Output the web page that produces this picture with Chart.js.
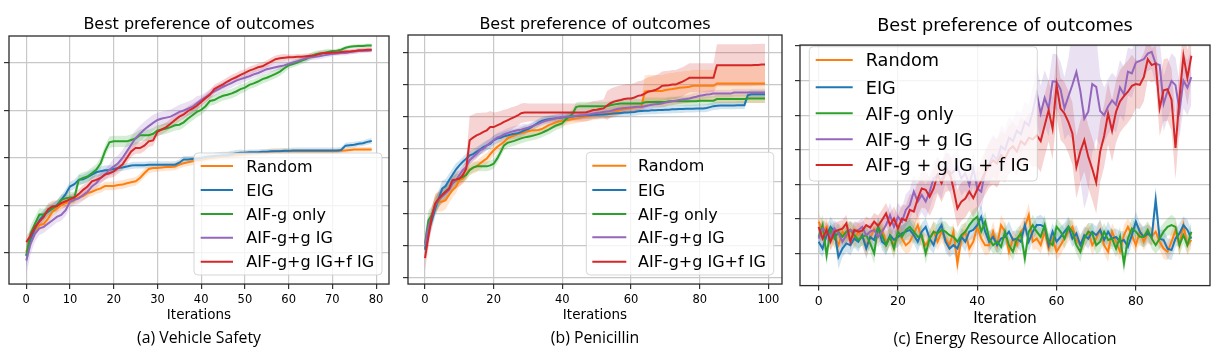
<!DOCTYPE html>
<html>
<head>
<meta charset="utf-8">
<script src="https://cdn.jsdelivr.net/npm/chart.js@4.4.1/dist/chart.umd.min.js"></script>
<style>
  body { margin: 0; background: #fff; }
  #wrap { position: relative; width: 1226px; height: 360px; }
  canvas { position: absolute; top: 0; }
</style>
</head>
<body>
<div id="wrap">
  <canvas id="chartA" width="400" height="360" style="left:0px"></canvas>
  <canvas id="chartB" width="392" height="360" style="left:400px"></canvas>
  <canvas id="chartC" width="434" height="360" style="left:792px"></canvas>
</div>
<script>
// series names and colours (matplotlib tab10)
const namesAB = ["Random", "EIG", "AIF-g only", "AIF-g+g IG", "AIF-g+g IG+f IG"];
const namesC = ["Random", "EIG", "AIF-g only", "AIF-g + g IG", "AIF-g + g IG + f IG"];
const lineColors = ["#ff7f0e", "#1f77b4", "#2ca02c", "#9467bd", "#d62728"];
const bandColors = ["rgba(255,127,14,0.2)", "rgba(31,119,180,0.2)", "rgba(44,160,44,0.2)",
                    "rgba(148,103,189,0.2)", "rgba(214,39,40,0.2)"];

// ---------- (a) Vehicle Safety ----------
const vsIter = Array.from({length: 80}, (_, i) => i);
const vsXTicks = [0, 10, 20, 30, 40, 50, 60, 70, 80];
const vsYTicks = [0, 1, 2, 3, 4];
const vsRandom = [
  0.02,0.30,0.48,0.59,0.61,0.73,0.87,0.94,1.01,1.05,
  1.08,1.12,1.17,1.20,1.26,1.29,1.33,1.36,1.41,1.41,
  1.41,1.43,1.44,1.47,1.49,1.51,1.58,1.68,1.77,1.79,
  1.79,1.80,1.81,1.81,1.82,1.86,1.89,1.91,1.93,1.95,
  1.96,1.98,2.00,2.01,2.02,2.03,2.04,2.05,2.06,2.07,
  2.08,2.09,2.10,2.10,2.11,2.12,2.13,2.14,2.14,2.14,
  2.14,2.14,2.14,2.14,2.14,2.14,2.14,2.14,2.14,2.14,
  2.14,2.14,2.15,2.16,2.17,2.18,2.18,2.18,2.18,2.18];
const vsEIG = [
  -0.07,0.30,0.52,0.69,0.80,0.87,0.94,1.01,1.12,1.24,
  1.40,1.45,1.54,1.55,1.60,1.65,1.70,1.72,1.74,1.75,
  1.77,1.79,1.80,1.82,1.84,1.85,1.85,1.85,1.86,1.86,
  1.86,1.86,1.86,1.86,1.86,1.90,1.97,1.97,1.98,1.99,
  2.00,2.02,2.03,2.04,2.05,2.06,2.06,2.08,2.10,2.11,
  2.11,2.12,2.12,2.12,2.13,2.13,2.14,2.14,2.14,2.15,
  2.15,2.16,2.16,2.16,2.16,2.16,2.16,2.16,2.16,2.16,
  2.16,2.16,2.17,2.26,2.27,2.28,2.30,2.31,2.34,2.36];
const vsAIF = [
  -0.05,0.41,0.62,0.81,0.81,0.90,0.94,0.99,1.12,1.15,
  1.17,1.17,1.54,1.58,1.61,1.68,1.75,1.89,2.14,2.33,
  2.35,2.35,2.35,2.35,2.38,2.41,2.48,2.48,2.48,2.51,
  2.58,2.60,2.62,2.65,2.69,2.70,2.75,2.83,2.90,2.97,
  3.01,3.09,3.20,3.22,3.27,3.31,3.33,3.36,3.40,3.45,
  3.48,3.54,3.57,3.61,3.66,3.69,3.73,3.77,3.82,3.89,
  3.95,3.98,4.01,4.05,4.08,4.14,4.18,4.20,4.21,4.23,
  4.25,4.26,4.28,4.32,4.34,4.35,4.36,4.36,4.37,4.37];
const vsAIFg = [
  -0.16,0.20,0.41,0.52,0.55,0.62,0.69,0.76,0.80,0.90,
  1.08,1.12,1.15,1.22,1.29,1.40,1.47,1.58,1.65,1.75,
  1.82,1.89,2.00,2.14,2.28,2.42,2.51,2.60,2.67,2.74,
  2.80,2.83,2.85,2.87,2.92,2.97,3.00,3.04,3.08,3.15,
  3.22,3.28,3.35,3.40,3.45,3.50,3.54,3.58,3.63,3.66,
  3.69,3.72,3.76,3.79,3.83,3.87,3.89,3.91,3.93,3.95,
  3.98,4.01,4.04,4.07,4.10,4.12,4.13,4.14,4.16,4.18,
  4.19,4.20,4.21,4.21,4.23,4.24,4.25,4.26,4.26,4.27];
const vsAIFgf = [
  0.23,0.37,0.55,0.66,0.76,0.92,0.98,0.99,1.05,1.09,
  1.13,1.17,1.24,1.33,1.40,1.51,1.54,1.58,1.65,1.68,
  1.72,1.79,1.86,2.00,2.14,2.21,2.21,2.26,2.35,2.37,
  2.55,2.60,2.65,2.72,2.80,2.87,2.92,2.99,3.04,3.10,
  3.18,3.26,3.33,3.45,3.50,3.55,3.61,3.66,3.70,3.75,
  3.79,3.84,3.87,3.91,3.93,3.98,4.03,4.08,4.10,4.11,
  4.12,4.12,4.13,4.13,4.14,4.15,4.16,4.19,4.21,4.21,
  4.22,4.22,4.23,4.24,4.24,4.25,4.27,4.27,4.28,4.28];
// half-widths of the shaded bands
const vsRandomSd = [
  0.20,0.16,0.13,0.11,0.10,0.10,0.09,0.09,0.09,0.09,
  0.09,0.09,0.09,0.09,0.09,0.09,0.09,0.09,0.09,0.09,
  0.09,0.09,0.09,0.09,0.09,0.09,0.09,0.09,0.09,0.09,
  0.08,0.08,0.08,0.08,0.08,0.08,0.08,0.08,0.08,0.08,
  0.07,0.07,0.07,0.07,0.07,0.07,0.07,0.07,0.07,0.07,
  0.06,0.06,0.06,0.06,0.06,0.06,0.06,0.06,0.06,0.06,
  0.05,0.05,0.05,0.05,0.05,0.05,0.05,0.05,0.05,0.05,
  0.05,0.05,0.05,0.05,0.05,0.05,0.05,0.05,0.05,0.05];
const vsEIGSd = [
  0.22,0.17,0.14,0.12,0.11,0.10,0.10,0.10,0.10,0.10,
  0.10,0.10,0.10,0.10,0.10,0.10,0.10,0.10,0.10,0.10,
  0.07,0.07,0.07,0.07,0.07,0.07,0.07,0.07,0.07,0.07,
  0.07,0.07,0.07,0.07,0.07,0.07,0.07,0.07,0.07,0.07,
  0.07,0.07,0.07,0.07,0.07,0.07,0.07,0.07,0.07,0.07,
  0.06,0.06,0.06,0.06,0.06,0.06,0.06,0.06,0.06,0.06,
  0.06,0.06,0.06,0.06,0.06,0.06,0.06,0.06,0.06,0.06,
  0.06,0.06,0.06,0.06,0.06,0.06,0.06,0.06,0.06,0.06];
const vsAIFSd = [
  0.22,0.18,0.15,0.13,0.12,0.12,0.11,0.11,0.11,0.11,
  0.12,0.12,0.12,0.12,0.12,0.12,0.12,0.12,0.12,0.12,
  0.12,0.12,0.12,0.12,0.12,0.12,0.12,0.12,0.12,0.12,
  0.11,0.11,0.11,0.11,0.11,0.11,0.11,0.11,0.11,0.11,
  0.10,0.10,0.10,0.10,0.10,0.10,0.10,0.10,0.10,0.10,
  0.09,0.09,0.09,0.09,0.09,0.09,0.09,0.09,0.09,0.09,
  0.07,0.07,0.07,0.07,0.07,0.07,0.07,0.07,0.07,0.07,
  0.04,0.04,0.04,0.04,0.04,0.04,0.04,0.04,0.04,0.04];
const vsAIFgSd = [
  0.30,0.22,0.17,0.14,0.13,0.12,0.12,0.12,0.12,0.12,
  0.12,0.12,0.12,0.12,0.12,0.12,0.12,0.12,0.12,0.12,
  0.17,0.17,0.17,0.17,0.17,0.17,0.17,0.17,0.17,0.17,
  0.15,0.15,0.15,0.15,0.15,0.15,0.15,0.15,0.15,0.15,
  0.10,0.10,0.10,0.10,0.10,0.10,0.10,0.10,0.10,0.10,
  0.08,0.08,0.08,0.08,0.08,0.08,0.08,0.08,0.08,0.08,
  0.06,0.06,0.06,0.06,0.06,0.06,0.06,0.06,0.06,0.06,
  0.05,0.05,0.05,0.05,0.05,0.05,0.05,0.05,0.05,0.05];
const vsAIFgfSd = [
  0.12,0.12,0.12,0.12,0.12,0.12,0.12,0.12,0.12,0.12,
  0.10,0.10,0.10,0.10,0.10,0.10,0.10,0.10,0.10,0.10,
  0.12,0.12,0.12,0.12,0.12,0.12,0.12,0.12,0.12,0.12,
  0.10,0.10,0.10,0.10,0.10,0.10,0.10,0.10,0.10,0.10,
  0.09,0.09,0.09,0.09,0.09,0.09,0.09,0.09,0.09,0.09,
  0.08,0.08,0.08,0.08,0.08,0.08,0.08,0.08,0.08,0.08,
  0.06,0.06,0.06,0.06,0.06,0.06,0.06,0.06,0.06,0.06,
  0.05,0.05,0.05,0.05,0.05,0.05,0.05,0.05,0.05,0.05];

// ---------- (b) Penicillin ----------
const penIter = Array.from({length: 100}, (_, i) => i);
const penXTicks = [0, 20, 40, 60, 80, 100];
const penYTicks = [0, 1, 2, 3, 4, 5, 6, 7];
const penRandom = [
  0.92,1.48,1.90,2.31,2.36,2.36,2.41,2.57,2.72,2.82,
  3.03,3.08,3.22,3.36,3.42,3.46,3.55,3.63,3.70,3.84,
  3.96,4.06,4.14,4.22,4.33,4.38,4.42,4.46,4.49,4.52,
  4.55,4.57,4.58,4.59,4.62,4.68,4.74,4.78,4.82,4.85,
  4.87,4.89,4.91,4.93,4.95,4.97,4.99,5.01,5.03,5.05,
  5.06,5.07,5.08,5.10,5.12,5.15,5.18,5.21,5.23,5.25,
  5.27,5.29,5.30,5.31,5.78,5.80,5.80,5.80,5.80,5.80,
  5.83,5.85,5.86,5.88,5.90,5.91,5.92,5.93,5.96,5.96,
  5.96,5.96,5.96,5.96,5.96,6.03,6.03,6.03,6.03,6.03,
  6.03,6.03,6.03,6.03,6.03,6.03,6.03,6.03,6.03,6.03];
const penEIG = [
  0.87,1.48,1.79,2.15,2.46,2.77,2.85,3.03,3.19,3.36,
  3.49,3.60,3.70,3.80,3.84,3.91,3.98,4.06,4.11,4.16,
  4.27,4.32,4.35,4.39,4.42,4.45,4.47,4.49,4.53,4.58,
  4.62,4.68,4.75,4.82,4.87,4.90,4.92,4.94,4.95,4.96,
  4.98,4.99,5.00,5.01,5.02,5.03,5.04,5.05,5.05,5.06,
  5.06,5.07,5.07,5.08,5.09,5.10,5.11,5.12,5.13,5.13,
  5.14,5.15,5.17,5.18,5.19,5.19,5.20,5.20,5.21,5.21,
  5.22,5.22,5.23,5.23,5.24,5.24,5.25,5.25,5.25,5.26,
  5.26,5.26,5.27,5.30,5.33,5.34,5.35,5.35,5.35,5.35,
  5.35,5.36,5.36,5.36,5.67,5.70,5.70,5.70,5.70,5.70];
const penAIF = [
  1.07,1.79,1.95,2.26,2.41,2.57,2.67,2.77,2.93,3.03,
  3.08,3.13,3.19,3.34,3.42,3.46,3.46,3.46,3.46,3.49,
  3.54,3.70,3.90,4.11,4.19,4.22,4.25,4.29,4.33,4.36,
  4.38,4.40,4.43,4.46,4.50,4.55,4.60,4.66,4.72,4.76,
  4.80,4.92,5.00,5.10,5.30,5.33,5.33,5.33,5.33,5.33,
  5.33,5.33,5.33,5.33,5.36,5.38,5.40,5.41,5.41,5.41,
  5.41,5.41,5.41,5.41,5.45,5.46,5.46,5.46,5.46,5.46,
  5.46,5.48,5.48,5.48,5.48,5.48,5.48,5.48,5.48,5.48,
  5.50,5.50,5.50,5.50,5.50,5.55,5.55,5.55,5.55,5.55,
  5.55,5.55,5.55,5.55,5.57,5.57,5.57,5.57,5.57,5.57];
const penAIFg = [
  1.02,1.59,1.90,2.26,2.43,2.52,2.62,2.72,2.93,3.03,
  3.19,3.34,3.44,3.65,3.75,3.84,3.96,4.01,4.11,4.19,
  4.27,4.35,4.39,4.45,4.49,4.53,4.56,4.58,4.60,4.63,
  4.66,4.70,4.74,4.78,4.83,4.87,4.90,4.92,4.95,4.97,
  4.99,5.00,5.01,5.02,5.03,5.04,5.05,5.07,5.08,5.10,
  5.12,5.13,5.15,5.16,5.18,5.21,5.24,5.26,5.27,5.28,
  5.29,5.30,5.31,5.31,5.33,5.35,5.37,5.39,5.40,5.41,
  5.44,5.46,5.48,5.50,5.52,5.54,5.55,5.57,5.60,5.62,
  5.65,5.67,5.69,5.70,5.72,5.72,5.72,5.72,5.72,5.72,
  5.75,5.75,5.75,5.75,5.75,5.75,5.75,5.75,5.75,5.75];
const penAIFgf = [
  0.61,1.28,1.90,2.31,2.46,2.57,2.67,2.77,3.03,3.05,
  3.08,3.19,3.39,4.27,4.35,4.42,4.47,4.53,4.58,4.68,
  4.68,4.73,4.78,4.84,4.89,4.94,4.99,5.04,5.11,5.13,
  5.13,5.13,5.13,5.13,5.13,5.13,5.13,5.13,5.13,5.13,
  5.13,5.13,5.13,5.13,5.13,5.13,5.13,5.14,5.17,5.21,
  5.22,5.24,5.26,5.35,5.42,5.47,5.50,5.52,5.55,5.57,
  5.57,5.60,5.65,5.67,5.72,5.78,5.80,5.83,5.88,5.96,
  5.97,5.98,6.00,6.00,6.05,6.09,6.15,6.21,6.21,6.21,
  6.21,6.21,6.21,6.21,6.21,6.60,6.60,6.60,6.60,6.60,
  6.60,6.60,6.60,6.60,6.60,6.60,6.61,6.61,6.62,6.62];
const penRandomSd = [
  0.35,0.30,0.30,0.30,0.30,0.30,0.28,0.25,0.22,0.20,
  0.18,0.18,0.18,0.18,0.18,0.18,0.18,0.18,0.18,0.18,
  0.16,0.16,0.16,0.16,0.16,0.16,0.16,0.16,0.16,0.16,
  0.15,0.15,0.15,0.15,0.15,0.15,0.15,0.15,0.15,0.15,
  0.15,0.15,0.15,0.15,0.15,0.15,0.15,0.15,0.15,0.15,
  0.15,0.15,0.15,0.15,0.15,0.15,0.15,0.15,0.15,0.15,
  0.15,0.15,0.15,0.15,0.50,0.50,0.50,0.50,0.50,0.50,
  0.50,0.50,0.50,0.50,0.50,0.50,0.50,0.50,0.50,0.50,
  0.50,0.50,0.50,0.50,0.50,0.60,0.60,0.60,0.60,0.60,
  0.60,0.60,0.60,0.60,0.60,0.60,0.60,0.60,0.60,0.60];
const penEIGSd = [
  0.30,0.30,0.28,0.25,0.25,0.25,0.22,0.20,0.20,0.20,
  0.15,0.15,0.15,0.15,0.15,0.15,0.15,0.15,0.15,0.15,
  0.15,0.15,0.15,0.15,0.15,0.15,0.15,0.15,0.15,0.15,
  0.12,0.12,0.12,0.12,0.12,0.12,0.12,0.12,0.12,0.12,
  0.12,0.12,0.12,0.12,0.12,0.12,0.12,0.12,0.12,0.12,
  0.12,0.12,0.12,0.12,0.12,0.12,0.12,0.12,0.12,0.12,
  0.12,0.12,0.12,0.12,0.12,0.12,0.12,0.12,0.12,0.12,
  0.12,0.12,0.12,0.12,0.12,0.12,0.12,0.12,0.12,0.12,
  0.12,0.12,0.12,0.12,0.12,0.12,0.12,0.12,0.12,0.12,
  0.12,0.12,0.12,0.12,0.12,0.12,0.12,0.12,0.12,0.12];
const penAIFSd = [
  0.30,0.30,0.28,0.25,0.25,0.22,0.20,0.20,0.20,0.20,
  0.15,0.15,0.15,0.15,0.15,0.15,0.15,0.15,0.15,0.15,
  0.15,0.15,0.15,0.15,0.15,0.15,0.15,0.15,0.15,0.15,
  0.14,0.14,0.14,0.14,0.14,0.14,0.14,0.14,0.14,0.14,
  0.14,0.14,0.14,0.14,0.14,0.14,0.14,0.14,0.14,0.14,
  0.14,0.14,0.14,0.14,0.14,0.14,0.14,0.14,0.14,0.14,
  0.14,0.14,0.14,0.14,0.14,0.14,0.14,0.14,0.14,0.14,
  0.14,0.14,0.14,0.14,0.14,0.14,0.14,0.14,0.14,0.14,
  0.14,0.14,0.14,0.14,0.14,0.14,0.14,0.14,0.14,0.14,
  0.14,0.14,0.14,0.14,0.14,0.14,0.14,0.14,0.14,0.14];
const penAIFgSd = [
  0.32,0.30,0.28,0.25,0.22,0.20,0.20,0.18,0.18,0.18,
  0.15,0.15,0.15,0.15,0.15,0.15,0.15,0.15,0.15,0.15,
  0.15,0.15,0.15,0.15,0.15,0.15,0.15,0.15,0.15,0.15,
  0.12,0.12,0.12,0.12,0.12,0.12,0.12,0.12,0.12,0.12,
  0.12,0.12,0.12,0.12,0.12,0.12,0.12,0.12,0.12,0.12,
  0.12,0.12,0.12,0.12,0.12,0.12,0.12,0.12,0.12,0.12,
  0.12,0.12,0.12,0.12,0.12,0.12,0.12,0.12,0.12,0.12,
  0.12,0.12,0.12,0.12,0.12,0.12,0.12,0.12,0.12,0.12,
  0.12,0.12,0.12,0.12,0.12,0.12,0.12,0.12,0.12,0.12,
  0.12,0.12,0.12,0.12,0.12,0.12,0.12,0.12,0.12,0.12];
const penAIFgfSd = [
  0.40,0.35,0.30,0.28,0.25,0.25,0.25,0.25,0.25,0.25,
  0.25,0.25,0.30,0.75,0.72,0.70,0.65,0.60,0.55,0.50,
  0.45,0.42,0.40,0.38,0.35,0.35,0.33,0.32,0.30,0.30,
  0.28,0.28,0.28,0.28,0.28,0.28,0.28,0.28,0.28,0.28,
  0.28,0.28,0.28,0.28,0.28,0.28,0.28,0.28,0.28,0.28,
  0.28,0.28,0.28,0.45,0.45,0.45,0.45,0.45,0.45,0.45,
  0.45,0.45,0.45,0.45,0.45,0.45,0.45,0.45,0.45,0.45,
  0.45,0.45,0.45,0.45,0.45,0.45,0.45,0.45,0.45,0.45,
  0.45,0.45,0.45,0.45,0.45,0.65,0.65,0.65,0.65,0.65,
  0.65,0.65,0.65,0.65,0.65,0.65,0.65,0.65,0.65,0.65];

// ---------- (c) Energy Resource Allocation ----------
const enIter = Array.from({length: 95}, (_, i) => i);
const enXTicks = [0, 20, 40, 60, 80];
const enYTicks = [0, 1, 2, 3, 4, 5, 6];
const enRandom = [
  0.92,0.63,0.77,0.39,0.53,0.24,0.63,0.48,0.68,0.43,
  0.63,0.48,0.24,0.43,0.72,0.53,0.68,0.34,0.48,0.24,
  0.58,0.43,0.24,0.34,0.58,0.82,0.43,0.24,0.43,0.63,
  0.34,0.63,0.43,0.24,0.63,-0.29,0.43,0.63,0.14,0.34,
  0.77,0.43,0.24,0.24,0.63,0.24,0.82,0.63,0.05,0.43,
  0.24,0.63,0.77,1.11,0.34,0.43,0.24,0.63,0.14,0.43,
  0.05,0.24,0.43,0.63,0.77,0.39,0.24,0.43,0.63,0.24,
  0.43,0.68,0.24,0.05,0.63,0.34,0.05,0.53,0.77,0.53,
  0.24,0.63,0.34,0.58,0.48,0.63,0.34,0.14,0.05,0.34,
  0.68,0.24,0.82,0.24,0.39];
const enEIG = [
  0.34,0.14,0.53,0.77,0.63,-0.10,0.14,0.29,0.24,0.43,
  0.34,0.53,0.14,0.48,0.39,0.77,0.34,0.24,0.53,0.39,
  0.48,0.58,0.63,0.68,0.53,0.34,0.63,0.77,0.43,0.24,
  0.63,0.82,0.34,0.14,0.24,0.14,0.48,0.34,0.63,0.68,
  0.82,1.06,0.63,0.34,0.48,0.24,0.43,0.48,0.63,0.39,
  0.43,0.34,0.82,0.34,0.63,0.82,0.82,0.77,0.24,0.63,
  0.34,0.48,0.63,0.77,0.43,0.58,0.24,0.53,0.43,0.63,
  0.53,0.68,0.39,0.63,0.43,0.48,0.34,0.39,0.19,0.53,
  0.92,0.63,0.48,0.58,0.48,1.55,0.43,0.39,0.14,0.10,
  0.43,0.58,0.82,0.68,0.43];
const enAIF = [
  0.48,0.82,-0.05,0.68,0.43,0.63,0.48,0.63,0.68,0.53,
  0.39,0.48,0.53,0.29,0.00,0.77,0.53,0.24,0.48,0.14,
  0.63,0.48,0.68,0.77,0.63,0.48,0.53,0.00,0.43,0.63,
  0.58,0.68,0.63,0.53,0.48,0.34,0.53,0.63,0.82,0.97,
  1.06,0.63,0.92,0.43,0.24,0.34,0.19,0.63,0.24,0.05,
  0.43,0.58,-0.14,0.63,0.82,0.63,0.48,0.82,0.34,0.24,
  0.77,0.63,0.43,0.77,0.63,0.24,0.05,0.43,0.63,0.58,
  0.24,0.34,0.63,0.39,0.43,0.14,0.48,-0.29,0.43,0.72,
  0.63,0.48,0.48,0.68,0.43,0.24,0.43,0.63,0.77,0.82,
  0.77,0.24,0.53,0.24,0.63];
const enAIFg = [
  0.43,0.72,0.63,0.48,0.72,0.58,0.34,0.53,0.68,0.63,
  0.68,0.77,0.53,0.63,0.68,0.48,0.63,0.82,1.11,0.77,
  1.06,0.92,1.26,1.40,1.79,1.50,1.69,1.50,1.79,2.17,
  2.27,2.08,2.56,2.27,2.37,2.51,2.17,2.32,1.98,2.46,
  1.88,1.79,2.37,2.60,2.85,2.70,3.10,3.00,3.35,3.25,
  3.55,3.45,3.80,3.70,4.10,4.65,4.05,4.50,4.19,4.98,
  4.97,4.75,4.20,4.55,4.88,5.25,4.70,3.90,4.10,4.90,
  4.82,4.12,4.00,4.25,4.43,4.30,4.80,4.60,5.26,5.21,
  5.52,5.57,5.62,5.78,5.83,5.49,5.45,4.33,4.70,4.99,
  4.87,4.14,5.00,4.80,5.10];
const enAIFgf = [
  0.77,0.43,0.68,0.34,0.63,0.68,0.72,0.87,0.34,0.68,
  0.63,0.66,0.82,0.75,0.92,0.80,0.97,1.16,0.82,1.01,
  0.72,1.01,0.95,1.26,1.21,1.59,1.88,1.84,1.64,1.88,
  2.27,2.03,2.32,2.37,1.88,1.30,1.50,1.59,1.79,1.60,
  1.85,2.10,2.35,2.55,2.70,2.60,2.85,2.75,3.00,3.10,
  2.95,3.25,3.15,3.35,3.30,3.42,3.25,3.70,4.14,3.61,
  4.87,4.19,4.05,3.80,3.47,2.50,2.95,3.28,2.80,2.45,
  2.05,2.95,3.40,4.05,3.55,4.10,4.40,4.55,4.68,4.85,
  4.90,4.88,5.10,5.62,5.45,5.50,4.20,4.72,4.75,4.45,
  3.05,4.50,5.72,5.08,5.72];
const enRandomSd = [
  0.25,0.30,0.25,0.30,0.25,0.35,0.25,0.30,0.25,0.30,
  0.25,0.30,0.35,0.25,0.30,0.25,0.25,0.30,0.25,0.30,
  0.25,0.30,0.25,0.30,0.25,0.35,0.25,0.30,0.25,0.30,
  0.25,0.30,0.25,0.30,0.25,0.35,0.25,0.30,0.30,0.25,
  0.30,0.25,0.30,0.25,0.30,0.25,0.30,0.25,0.30,0.25,
  0.30,0.25,0.30,0.35,0.25,0.30,0.25,0.30,0.25,0.30,
  0.25,0.30,0.25,0.30,0.25,0.30,0.25,0.30,0.25,0.30,
  0.25,0.30,0.25,0.30,0.25,0.30,0.25,0.30,0.25,0.30,
  0.25,0.30,0.25,0.30,0.25,0.30,0.25,0.30,0.25,0.30,
  0.25,0.30,0.25,0.30,0.25];
const enEIGSd = [
  0.30,0.25,0.25,0.30,0.25,0.35,0.25,0.25,0.30,0.25,
  0.30,0.25,0.30,0.25,0.25,0.30,0.25,0.30,0.25,0.25,
  0.30,0.25,0.25,0.30,0.25,0.30,0.25,0.25,0.30,0.25,
  0.30,0.25,0.30,0.25,0.25,0.30,0.25,0.30,0.25,0.25,
  0.30,0.35,0.25,0.30,0.25,0.25,0.30,0.25,0.30,0.25,
  0.25,0.30,0.25,0.30,0.25,0.25,0.30,0.25,0.30,0.25,
  0.25,0.30,0.25,0.30,0.25,0.25,0.30,0.25,0.30,0.25,
  0.25,0.30,0.25,0.30,0.25,0.25,0.30,0.25,0.30,0.25,
  0.30,0.25,0.30,0.25,0.25,0.40,0.25,0.30,0.30,0.30,
  0.25,0.30,0.25,0.30,0.25];
const enAIFSd = [
  0.25,0.30,0.30,0.25,0.30,0.25,0.25,0.30,0.25,0.30,
  0.25,0.25,0.30,0.25,0.30,0.25,0.30,0.25,0.25,0.30,
  0.25,0.30,0.25,0.25,0.30,0.25,0.30,0.30,0.25,0.30,
  0.25,0.25,0.30,0.25,0.30,0.25,0.30,0.25,0.25,0.30,
  0.30,0.25,0.30,0.25,0.25,0.30,0.25,0.30,0.25,0.25,
  0.30,0.25,0.30,0.25,0.30,0.25,0.25,0.30,0.25,0.30,
  0.25,0.25,0.30,0.25,0.30,0.25,0.30,0.25,0.25,0.30,
  0.25,0.30,0.25,0.25,0.30,0.25,0.30,0.30,0.25,0.30,
  0.25,0.25,0.30,0.25,0.30,0.25,0.30,0.25,0.25,0.30,
  0.25,0.30,0.25,0.25,0.30];
const enAIFgSd = [
  0.25,0.25,0.25,0.25,0.25,0.25,0.25,0.25,0.25,0.25,
  0.25,0.25,0.25,0.25,0.25,0.30,0.30,0.30,0.35,0.35,
  0.40,0.40,0.45,0.45,0.50,0.50,0.50,0.50,0.50,0.50,
  0.50,0.50,0.50,0.50,0.50,0.50,0.50,0.50,0.50,0.50,
  0.50,0.55,0.55,0.60,0.60,0.60,0.60,0.60,0.60,0.60,
  0.60,0.60,0.60,0.60,0.70,0.80,0.80,0.80,0.80,0.80,
  0.80,0.80,0.90,1.10,1.60,2.20,2.60,2.60,2.40,2.00,
  1.50,1.00,0.80,0.80,0.80,0.80,0.80,0.80,0.70,0.70,
  0.60,0.60,0.60,0.50,0.50,0.60,0.70,0.80,0.80,0.80,
  0.80,0.80,0.80,0.80,0.80];
const enAIFgfSd = [
  0.25,0.25,0.25,0.25,0.25,0.25,0.25,0.25,0.25,0.25,
  0.25,0.25,0.25,0.25,0.25,0.30,0.30,0.30,0.35,0.35,
  0.40,0.40,0.45,0.45,0.50,0.50,0.55,0.55,0.55,0.55,
  0.55,0.55,0.55,0.55,0.55,0.55,0.55,0.55,0.55,0.55,
  0.60,0.60,0.65,0.65,0.70,0.70,0.70,0.70,0.70,0.70,
  0.70,0.70,0.70,0.70,0.80,0.90,0.90,0.90,0.90,0.90,
  0.90,0.90,0.90,0.90,0.90,0.90,0.90,0.90,0.90,0.90,
  0.90,0.90,0.90,0.90,0.90,0.90,0.90,0.90,0.90,0.90,
  0.70,0.70,0.70,0.60,0.50,0.50,0.80,0.90,0.90,0.90,
  0.90,0.90,0.80,0.80,0.70];

Chart.defaults.font.family = "DejaVu Sans";
Chart.defaults.color = "#000";

// frame around the axes plus a matplotlib-like legend box inside the plot
function frameAndLegend(lg, names) {
  return {
    id: "frameAndLegend",
    afterDatasetsDraw(chart) {
      const ctx = chart.ctx;
      const a = chart.chartArea;
      ctx.save();
      ctx.strokeStyle = "#2b2b2b";
      ctx.lineWidth = 1.3;
      ctx.strokeRect(a.left, a.top, a.right - a.left, a.bottom - a.top);
      ctx.beginPath();
      ctx.roundRect(lg.x, lg.y, lg.w, lg.h, 4);
      ctx.fillStyle = "rgba(255,255,255,0.8)";
      ctx.fill();
      ctx.strokeStyle = "rgba(204,204,204,0.8)";
      ctx.lineWidth = 1;
      ctx.stroke();
      ctx.font = lg.size + "px 'DejaVu Sans'";
      ctx.textBaseline = "alphabetic";
      names.forEach((name, i) => {
        const y = lg.rows[i];
        ctx.strokeStyle = lineColors[i];
        ctx.lineWidth = 2;
        ctx.beginPath();
        ctx.moveTo(lg.l0, y);
        ctx.lineTo(lg.l1, y);
        ctx.stroke();
        ctx.fillStyle = "#000";
        ctx.fillText(name, lg.tx, y + lg.size * 0.36);
      });
      ctx.restore();
    }
  };
}

function makeChart(id, p) {
  const datasets = [];
  p.means.forEach((m, s) => {
    const sd = p.spreads[s];
    datasets.push({data: m.map((v, i) => v - sd[i]), borderWidth: 0, borderColor: "rgba(0,0,0,0)",
                   pointRadius: 0, fill: false, order: 20 + s});
    datasets.push({data: m.map((v, i) => v + sd[i]), borderWidth: 0, borderColor: "rgba(0,0,0,0)",
                   pointRadius: 0, fill: "-1", backgroundColor: bandColors[s], order: 20 + s});
  });
  p.means.forEach((m, s) => {
    datasets.push({label: p.names[s], data: m, borderColor: lineColors[s], borderWidth: 2,
                   pointRadius: 0, fill: false, order: 10 - s});
  });
  const gridStyle = {color: "#c8c8c8", lineWidth: 1.2, drawTicks: true, tickLength: 5,
                     tickColor: "#333", tickWidth: 1.2};
  return new Chart(document.getElementById(id), {
    type: "line",
    data: {labels: p.iters, datasets},
    plugins: [frameAndLegend(p.legend, p.names)],
    options: {
      responsive: false,
      animation: false,
      devicePixelRatio: 1,
      events: [],
      elements: {line: {tension: 0}},
      layout: {padding: {left: p.padL, right: p.padR, top: 0, bottom: 0}},
      plugins: {
        legend: {display: false},
        tooltip: {enabled: false},
        title: {display: true, text: "Best preference of outcomes", color: "#000",
                font: {family: "DejaVu Sans", size: p.titleSize, weight: "normal", lineHeight: 1.2},
                padding: {top: p.titlePad[0], bottom: p.titlePad[1]}},
        subtitle: {display: true, position: "bottom", text: p.caption, color: "#000",
                   font: {family: "Open Sans", size: p.capSize, weight: "normal", lineHeight: 1.2},
                   padding: {top: p.capPad[0], bottom: p.capPad[1]}}
      },
      scales: {
        x: {
          type: "linear", min: p.xMin, max: p.xMax,
          afterBuildTicks: s => { s.ticks = p.xTicks.map(v => ({value: v})); },
          afterFit: s => { s.height = p.xAxisH; },
          grid: gridStyle,
          border: {display: false},
          ticks: {font: {size: p.tickSize}, color: "#000", padding: p.tickPad, maxRotation: 0},
          title: {display: true, text: p.xTitle, color: "#000",
                  font: {family: "DejaVu Sans", size: p.xTitleSize, lineHeight: 1.2},
                  padding: {top: 0, bottom: 0}}
        },
        y: {
          type: "linear", min: p.yMin, max: p.yMax,
          afterBuildTicks: s => { s.ticks = p.yTicks.map(v => ({value: v})); },
          afterFit: s => { s.width = 0; },
          grid: gridStyle,
          border: {display: false},
          ticks: {display: false}
        }
      }
    }
  });
}

makeChart("chartA", {
  iters: vsIter, names: namesAB,
  means: [vsRandom, vsEIG, vsAIF, vsAIFg, vsAIFgf],
  spreads: [vsRandomSd, vsEIGSd, vsAIFSd, vsAIFgSd, vsAIFgfSd],
  xMin: -3.95, xMax: 82.95, yMin: -0.653, yMax: 4.568, xTicks: vsXTicks, yTicks: vsYTicks,
  padL: 9, padR: 11, titleSize: 16, titlePad: [15.4, 1.4],
  caption: "(a) Vehicle Safety", capSize: 15.8, capPad: [5, 12],
  xAxisH: 40, tickSize: 11.5, tickPad: 4, xTitle: "Iterations", xTitleSize: 13.5,
  legend: {x: 194, y: 153, w: 188, h: 122, rows: [166, 190, 214, 237.7, 261.7],
           l0: 200.7, l1: 233, tx: 246.3, size: 16}
});

makeChart("chartB", {
  iters: penIter, names: namesAB,
  means: [penRandom, penEIG, penAIF, penAIFg, penAIFgf],
  spreads: [penRandomSd, penEIGSd, penAIFSd, penAIFgSd, penAIFgfSd],
  xMin: -4.95, xMax: 103.95, yMin: -0.196, yMax: 7.54, xTicks: penXTicks, yTicks: penYTicks,
  padL: 8, padR: 10, titleSize: 16, titlePad: [14.9, 0.9],
  caption: "(b) Penicillin", capSize: 15.8, capPad: [5, 12],
  xAxisH: 40, tickSize: 11.5, tickPad: 4, xTitle: "Iterations", xTitleSize: 13.5,
  legend: {x: 186.3, y: 152.3, w: 187.4, h: 122.7, rows: [165.7, 190, 214, 237.3, 261.7],
           l0: 192.3, l1: 226.3, tx: 238, size: 16}
});

makeChart("chartC", {
  iters: enIter, names: namesC,
  means: [enRandom, enEIG, enAIF, enAIFg, enAIFgf],
  spreads: [enRandomSd, enEIGSd, enAIFSd, enAIFgSd, enAIFgfSd],
  xMin: -4.7, xMax: 98.7, yMin: -0.93, yMax: 6.03, xTicks: enXTicks, yTicks: enYTicks,
  padL: 8, padR: 16, titleSize: 17.7, titlePad: [15.4, 8.4],
  caption: "(c) Energy Resource Allocation", capSize: 16, capPad: [1.1, 11.1],
  xAxisH: 43, tickSize: 12.5, tickPad: 4, xTitle: "Iteration", xTitleSize: 15,
  legend: {x: 17.3, y: 46.7, w: 228, h: 134.3, rows: [60, 87.3, 113.3, 139.3, 165],
           l0: 23.7, l1: 60.7, tx: 73.7, size: 17.7}
});
</script>
</body>
</html>
